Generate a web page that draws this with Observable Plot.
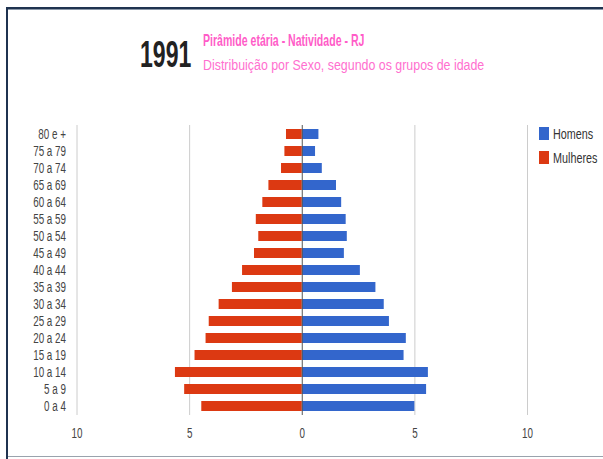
<!DOCTYPE html>
<html>
<head>
<meta charset="utf-8">
<script src="https://cdn.jsdelivr.net/npm/d3@7"></script>
<script src="https://cdn.jsdelivr.net/npm/@observablehq/plot@0.6"></script>
<style>
  html, body { margin: 0; padding: 0; background: #fff; }
  #wrap { position: relative; width: 603px; height: 459px; overflow: hidden; font-family: "Liberation Sans", Arial, sans-serif; }
  .bl { position: absolute; left: 6px; top: 7px; width: 2px; height: 452px; background: #1f3350; }
  .bt { position: absolute; left: 6px; top: 7px; width: 600px; height: 2px; background: #1f3350; }
  .bt2 { position: absolute; left: 8px; top: 9px; width: 600px; height: 1px; background: #8a97a8; }
  .bb { position: absolute; left: 8px; top: 456px; width: 600px; height: 1px; background: #9aa3ad; }
  .t { position: absolute; line-height: 1; white-space: nowrap; transform-origin: 0 0; }
  #year { left: 140px; top: 36.5px; font-size: 36px; font-weight: bold; color: #222; transform: scaleX(0.64); }
  #title { left: 203px; top: 32.3px; font-size: 16.5px; font-weight: bold; color: #ff5cc8; transform: scaleX(0.64); }
  #subtitle { left: 203px; top: 56.6px; font-size: 15.5px; color: #ff6fcf; transform: scaleX(0.80); }
  #chart { position: absolute; left: 0; top: 110px; }
  .sw { position: absolute; width: 10px; height: 13px; }
  .lt { font-size: 15px; color: #333; transform: scaleX(0.72); }
</style>
</head>
<body>
<div id="wrap">
  <div class="bl"></div><div class="bt"></div><div class="bt2"></div><div class="bb"></div>
  <div id="year" class="t">1991</div>
  <div id="title" class="t">Pirâmide etária - Natividade - RJ</div>
  <div id="subtitle" class="t">Distribuição por Sexo, segundo os grupos de idade</div>
  <div id="chart"></div>
  <div id="legend"></div>
</div>
<script>
const ages = ["0 a 4","5 a 9","10 a 14","15 a 19","20 a 24","25 a 29","30 a 34","35 a 39","40 a 44","45 a 49","50 a 54","55 a 59","60 a 64","65 a 69","70 a 74","75 a 79","80 e +"];
const homens   = [5.00, 5.52, 5.60, 4.52, 4.62, 3.87, 3.64, 3.27, 2.58, 1.87, 2.00, 1.95, 1.75, 1.52, 0.89, 0.59, 0.74];
const mulheres = [4.46, 5.22, 5.63, 4.76, 4.27, 4.13, 3.69, 3.10, 2.65, 2.12, 1.93, 2.04, 1.75, 1.48, 0.92, 0.77, 0.70];
const sexes = ["Homens", "Mulheres"];
const colors = ["#3366cc", "#dc3912"];
const xTicks = [-10, -5, 0, 5, 10];
const gridTicks = [-10, -5, 5, 10];

const data = ages.flatMap((a, i) => [
  {age: a, sex: "Homens", v: homens[i]},
  {age: a, sex: "Mulheres", v: -mulheres[i]}
]);

const chart = Plot.plot({
  width: 603,
  height: 349,
  marginLeft: 76.5,
  marginRight: 76,
  marginTop: 15,
  marginBottom: 44,
  style: {fontFamily: "'Liberation Sans', Arial, sans-serif", fontSize: "14.5px", color: "#444", background: "transparent"},
  x: {domain: [-10, 10], ticks: xTicks, tickFormat: d => Math.abs(d), label: null, tickSize: 0, tickPadding: 12},
  y: {domain: [...ages].reverse(), label: null, tickSize: 0, tickPadding: 11, paddingInner: 0.42, paddingOuter: 0.21},
  color: {domain: sexes, range: colors},
  marks: [
    Plot.ruleX(gridTicks, {stroke: "#cccccc", strokeWidth: 1}),
    Plot.barX(data, {x: "v", y: "age", fill: "sex"}),
    Plot.ruleX([0], {stroke: "#555", strokeWidth: 1})
  ]
});

// condense tick labels horizontally (reference uses a narrow face)
chart.querySelectorAll('g[aria-label$="tick label"] text').forEach(t => {
  const tr = t.getAttribute("transform");
  if (tr) t.setAttribute("transform", tr + " scale(0.68,1)");
  else {
    const x = +t.getAttribute("x") || 0;
    t.setAttribute("transform", `translate(${x},0) scale(0.68,1) translate(${-x},0)`);
  }
});
document.getElementById("chart").appendChild(chart);

const legend = document.getElementById("legend");
const legTop = [127, 151];
sexes.forEach((s, i) => {
  const sw = document.createElement("div");
  sw.className = "sw";
  sw.style.left = "539px";
  sw.style.top = legTop[i] + "px";
  sw.style.background = colors[i];
  legend.appendChild(sw);
  const lt = document.createElement("div");
  lt.className = "t lt";
  lt.style.left = "553px";
  lt.style.top = (legTop[i] - 1.2) + "px";
  lt.textContent = s;
  legend.appendChild(lt);
});
</script>
</body>
</html>
